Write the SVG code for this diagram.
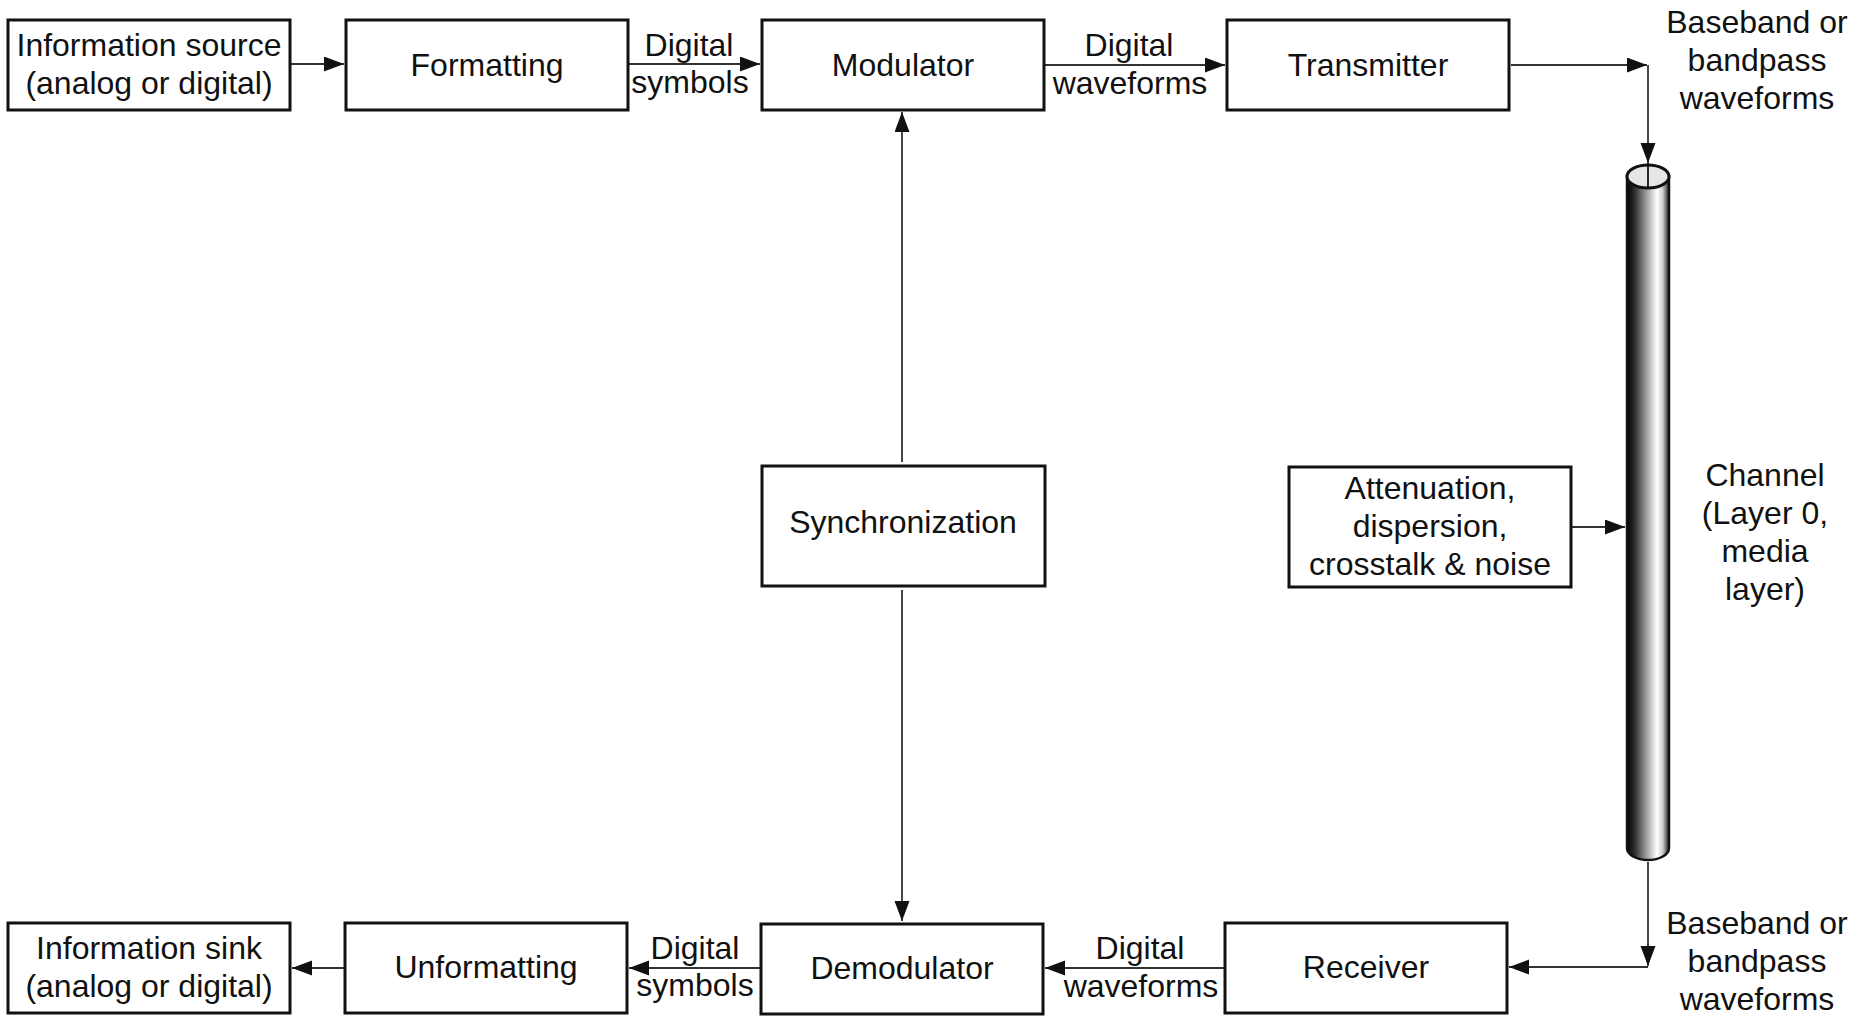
<svg xmlns="http://www.w3.org/2000/svg" width="1870" height="1021" viewBox="0 0 1870 1021">
<style>
text{font-family:"Liberation Sans",Arial,sans-serif;font-size:32px;fill:#111;text-anchor:middle}
.box{fill:#fff;stroke:#111;stroke-width:3}
.conn{fill:none;stroke:#333;stroke-width:1.8}
</style>
<defs>
<marker id="ah" markerUnits="userSpaceOnUse" markerWidth="22" markerHeight="16" refX="20" refY="7.5" orient="auto">
<path d="M0,0 L20,7.5 L0,15 Z" fill="#111"/>
</marker>
<linearGradient id="cyl" x1="0" y1="0" x2="1" y2="0">
<stop offset="0" stop-color="#000"/>
<stop offset="0.2" stop-color="#333"/>
<stop offset="0.45" stop-color="#999"/>
<stop offset="0.72" stop-color="#fff"/>
<stop offset="0.85" stop-color="#ccc"/>
<stop offset="1" stop-color="#222"/>
</linearGradient>
</defs>
<rect width="1870" height="1021" fill="#fff"/>

<g id="connectors">
<path class="conn" d="M290,64 H344" marker-end="url(#ah)"/>
<path class="conn" d="M628,64 H760" marker-end="url(#ah)"/>
<path class="conn" d="M1044,65 H1225" marker-end="url(#ah)"/>
<path class="conn" d="M1511,65 H1647" marker-end="url(#ah)"/>
<path class="conn" d="M1648,65 V163" marker-end="url(#ah)"/>
<path class="conn" d="M902,462 V112" marker-end="url(#ah)"/>
<path class="conn" d="M902,590 V921" marker-end="url(#ah)"/>
<path class="conn" d="M1572,527 H1625" marker-end="url(#ah)"/>
<path class="conn" d="M1648,862 V966" marker-end="url(#ah)"/>
<path class="conn" d="M1648,967 H1509" marker-end="url(#ah)"/>
<path class="conn" d="M1225,968 H1045" marker-end="url(#ah)"/>
<path class="conn" d="M761,968 H629" marker-end="url(#ah)"/>
<path class="conn" d="M345,968 H292" marker-end="url(#ah)"/>
</g>

<g id="channel">
<path d="M1627,177 V848 A21,12 0 0 0 1669,848 V177 Z" fill="url(#cyl)" stroke="#111" stroke-width="2.5"/>
<ellipse cx="1648" cy="176.5" rx="21" ry="11.5" fill="#e6e6e6" stroke="#111" stroke-width="3"/>
<line x1="1648" y1="163" x2="1648" y2="188" stroke="#111" stroke-width="1.8"/>
<text x="1765" y="486">Channel</text>
<text x="1765" y="524">(Layer 0,</text>
<text x="1765" y="562">media</text>
<text x="1765" y="600">layer)</text>
</g>

<g id="info-source">
<rect class="box" x="8" y="20" width="282" height="90"/>
<text x="149" y="56">Information source</text>
<text x="149" y="94">(analog or digital)</text>
</g>
<g id="formatting">
<rect class="box" x="346" y="20" width="282" height="90"/>
<text x="487" y="76">Formatting</text>
</g>
<g id="modulator">
<rect class="box" x="762" y="20" width="282" height="90"/>
<text x="903" y="76">Modulator</text>
</g>
<g id="transmitter">
<rect class="box" x="1227" y="20" width="282" height="90"/>
<text x="1368" y="76">Transmitter</text>
</g>
<g id="synchronization">
<rect class="box" x="762" y="466" width="283" height="120"/>
<text x="903" y="533">Synchronization</text>
</g>
<g id="attenuation">
<rect class="box" x="1289" y="467" width="282" height="120"/>
<text x="1430" y="499">Attenuation,</text>
<text x="1430" y="537">dispersion,</text>
<text x="1430" y="575">crosstalk &amp; noise</text>
</g>
<g id="info-sink">
<rect class="box" x="8" y="923" width="282" height="90"/>
<text x="149" y="959">Information sink</text>
<text x="149" y="997">(analog or digital)</text>
</g>
<g id="unformatting">
<rect class="box" x="345" y="923" width="282" height="90"/>
<text x="486" y="978">Unformatting</text>
</g>
<g id="demodulator">
<rect class="box" x="761" y="924" width="282" height="90"/>
<text x="902" y="979">Demodulator</text>
</g>
<g id="receiver">
<rect class="box" x="1225" y="923" width="282" height="90"/>
<text x="1366" y="978">Receiver</text>
</g>

<g id="labels">
<text x="689" y="56">Digital</text>
<text x="690" y="93">symbols</text>
<text x="1129" y="56">Digital</text>
<text x="1130" y="94">waveforms</text>
<text x="1757" y="33">Baseband or</text>
<text x="1757" y="71">bandpass</text>
<text x="1757" y="109">waveforms</text>
<text x="1757" y="934">Baseband or</text>
<text x="1757" y="972">bandpass</text>
<text x="1757" y="1010">waveforms</text>
<text x="695" y="959">Digital</text>
<text x="695" y="996">symbols</text>
<text x="1140" y="959">Digital</text>
<text x="1141" y="997">waveforms</text>
</g>
</svg>
